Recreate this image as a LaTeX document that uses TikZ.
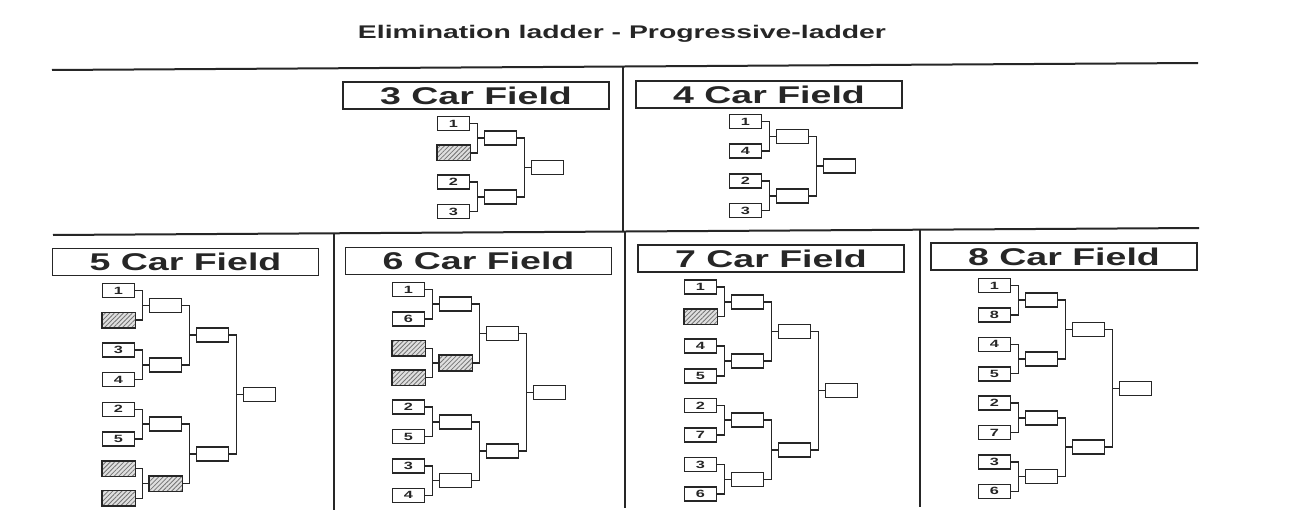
\documentclass[tikz,border=0pt]{standalone}
\usepackage{fontspec}
\setmainfont{Liberation Sans}
\newfontfamily\widesans[FakeStretch=1.55]{Liberation Sans}
\usetikzlibrary{patterns.meta}
\definecolor{ink}{HTML}{262626}
\tikzset{
  frame/.style={draw=ink, line width=2pt},
  box/.style={draw=ink, line width=1.6pt, minimum width=32pt, minimum height=14pt,
    inner sep=0pt, font=\widesans\bfseries\fontsize{10.5}{10}\selectfont, text=ink},
  seedbox/.style={box},
  roundbox/.style={box},
  hatchbox/.style={draw=ink, line width=1.6pt, preaction={fill=gray!25},
    pattern={Lines[angle=45,distance=3.2pt,line width=0.8pt]}, pattern color=black!55},
  link/.style={draw=ink, line width=1.5pt},
  fieldtitle/.style={draw=ink, line width=1.6pt, minimum width=266pt, minimum height=27pt,
    inner sep=0pt, font=\widesans\bfseries\fontsize{24.2}{24}\selectfont, text=ink},
  maintitle/.style={font=\widesans\bfseries\fontsize{18.3}{20}\selectfont, text=ink, anchor=base},
}
\newcommand{\pairlink}[3]{%
  \draw[link] (#1.east) -| ([xshift=-6pt]#3.west) |- (#2.east);
  \draw[link] ([xshift=-6pt]#3.west) -- (#3.west);
}
\newcommand{\ladderfour}[5]{%
  \foreach \lab [count=\i] in {#5} {\node[seedbox] (#1s\i) at ({#2+16.5},{#3+(\i-1)*#4}) {\lab};}
  \node[roundbox] (#1r1) at ({#2+63.5},{#3+0.5*#4}) {};
  \node[roundbox] (#1r2) at ({#2+63.5},{#3+2.5*#4}) {};
  \node[roundbox] (#1f) at ({#2+110.5},{#3+1.5*#4}) {};
  \pairlink{#1s1}{#1s2}{#1r1}
  \pairlink{#1s3}{#1s4}{#1r2}
  \pairlink{#1r1}{#1r2}{#1f}
}
\newcommand{\laddereight}[5]{%
  \foreach \lab [count=\i] in {#5} {\node[seedbox] (#1s\i) at ({#2+16.5},{#3+(\i-1)*#4}) {\lab};}
  \foreach \j in {1,2,3,4} {\node[roundbox] (#1r\j) at ({#2+63.5},{#3+(2*\j-1.5)*#4}) {};}
  \foreach \k in {1,2} {\node[roundbox] (#1q\k) at ({#2+110.5},{#3+(4*\k-2.5)*#4}) {};}
  \node[roundbox] (#1f) at ({#2+157.5},{#3+3.5*#4}) {};
  \pairlink{#1s1}{#1s2}{#1r1}
  \pairlink{#1s3}{#1s4}{#1r2}
  \pairlink{#1s5}{#1s6}{#1r3}
  \pairlink{#1s7}{#1s8}{#1r4}
  \pairlink{#1r1}{#1r2}{#1q1}
  \pairlink{#1r3}{#1r4}{#1q2}
  \pairlink{#1q1}{#1q2}{#1f}
}
\newcommand{\hatchit}[1]{\draw[hatchbox] (#1.south west) rectangle (#1.north east);}
\begin{document}
\begin{tikzpicture}[x=1pt,y=-1pt]
  \useasboundingbox[fill=white] (0,0) rectangle (1291,527);
  % title
  \node[maintitle] (title) at (622,38.5) {Elimination ladder - Progressive-ladder};
  % frame lines
  \draw[frame] (52,70) -- (1198,63);
  \draw[frame] (53,235) -- (1199,228);
  \draw[frame] (623,67) -- (623,232);
  \draw[frame] (334,234) -- (334,510);
  \draw[frame] (625,232) -- (625,508);
  \draw[frame] (920,230) -- (920,507);
  % field titles
  \node[fieldtitle] (h3) at (476,95.5) {3 Car Field};
  \node[fieldtitle] (h4) at (769,94.5) {4 Car Field};
  \node[fieldtitle] (h5) at (185.5,262) {5 Car Field};
  \node[fieldtitle] (h6) at (478.5,261) {6 Car Field};
  \node[fieldtitle] (h7) at (771,258.5) {7 Car Field};
  \node[fieldtitle] (h8) at (1064,256.5) {8 Car Field};
  % ladders
  \ladderfour{tA}{437}{123.5}{29.3}{1,{},2,3}
  \ladderfour{tB}{729}{121.5}{29.7}{1,4,2,3}
  \laddereight{bA}{102}{290.5}{29.7}{1,{},3,4,2,5,{},{}}
  \laddereight{bB}{392}{289.5}{29.4}{1,6,{},{},2,5,3,4}
  \laddereight{bC}{684}{287}{29.6}{1,{},4,5,2,7,3,6}
  \laddereight{bD}{978}{285.5}{29.4}{1,8,4,5,2,7,3,6}
  % hatched (bye) boxes
  \hatchit{tAs2}
  \hatchit{bAs2}\hatchit{bAs7}\hatchit{bAs8}\hatchit{bAr4}
  \hatchit{bBs3}\hatchit{bBs4}\hatchit{bBr2}
  \hatchit{bCs2}
\end{tikzpicture}
\end{document}
